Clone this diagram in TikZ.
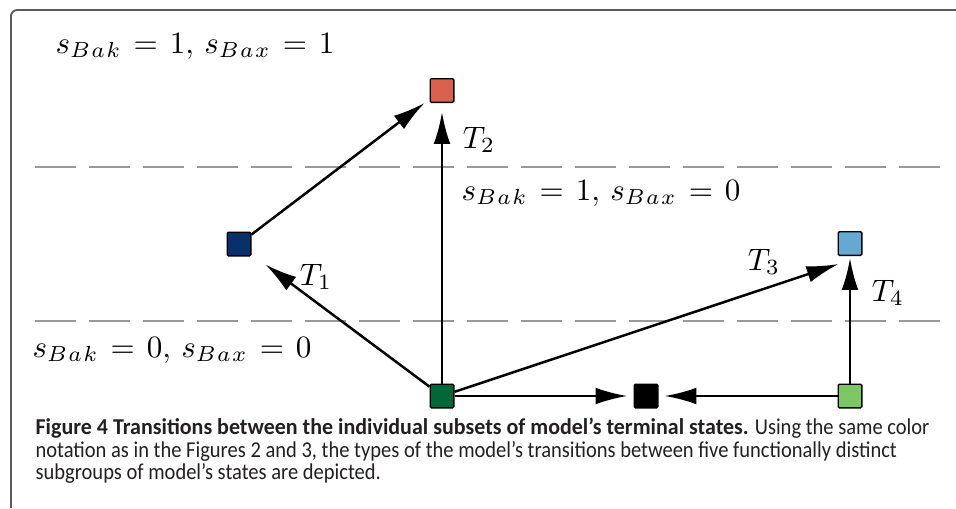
\documentclass[tikz,border=0pt]{standalone}
\usepackage{fontspec}
\newfontfamily\capfont[FakeStretch=0.905, BoldFeatures={FakeStretch=0.97}]{Carlito}
\usetikzlibrary{arrows.meta}
\definecolor{cRed}{HTML}{D9604C}
\definecolor{cDBlue}{HTML}{08306B}
\definecolor{cDGreen}{HTML}{006837}
\definecolor{cLGreen}{HTML}{7DC664}
\definecolor{cLBlue}{HTML}{65A9D2}
\definecolor{frameC}{HTML}{5A5A5A}
\definecolor{dashC}{HTML}{999999}
\definecolor{capC}{HTML}{231F20}
\newcommand{\regtext}[2]{$\thickmuskip=7mu s_{B\mkern1mu a\mkern1mu k}=#1,\mkern3mu s_{B\mkern1mu a\mkern1mu x}=#2$}
\begin{document}
\begin{tikzpicture}[x=0.322pt,y=-0.322pt,
  state/.style={draw=black, line width=0.45pt, minimum size=7.6pt, inner sep=0pt, rounded corners=0.4pt},
  arr/.style={-{Latex[length=10.3pt,width=5.4pt]}, line width=0.8pt},
  divider/.style={draw=dashC, line width=0.6pt, dash pattern=on 13.2pt off 4.19pt},
  region/.style={anchor=base west, inner sep=0pt, font=\fontsize{10}{12}\selectfont},
  tlab/.style={inner sep=0pt, font=\fontsize{10}{12}\selectfont},
  capline/.style={anchor=base west, inner sep=0pt, text=capC, font=\capfont\fontsize{7.3}{8.5}\selectfont}]
\useasboundingbox (0,0) rectangle (956,508);
% frame
\draw[frameC, line width=0.6pt, rounded corners=2pt] (11,508) -- (11,10) -- (956,10);
% dividers
\draw[divider] (35,167) -- (942,167);
\draw[divider] (35,321) -- (942,321);
% region labels
\node[region] (l1) at (55,53) {\regtext{1}{1}};
\node[region] (l2) at (461,200) {\regtext{1}{0}};
\node[region] (l3) at (32,357) {\regtext{0}{0}};
% states
\node[state, fill=cRed] (r) at (442,90.5) {};
\node[state, fill=cDBlue] (b) at (239,244) {};
\node[state, fill=cDGreen] (g) at (442,396) {};
\node[state, fill=black] (k) at (646,396) {};
\node[state, fill=cLGreen] (lg) at (850,396) {};
\node[state, fill=cLBlue] (lb) at (850,243.5) {};
% transitions
\draw[arr] (b) -- ([shift={(-5,0)}]r.south west);
\draw[arr] (g) -- ([shift={(0,9)}]r.south);
\draw[arr] (g) -- ([shift={(14,8)}]b.south east);
\draw[arr] (g) -- ([shift={(1,8)}]lb.south west);
\draw[arr] (lg) -- ([shift={(0,2)}]lb.south);
\draw[arr] (g) -- ([shift={(-6,0)}]k.west);
\draw[arr] (lg) -- ([shift={(6,0)}]k.east);
% transition labels
\node[tlab] (t1) at (316,277) {$T_1$};
\node[tlab] (t2) at (479,140) {$T_2$};
\node[tlab] (t3) at (764,262) {$T_3$};
\node[tlab] (t4) at (888,293) {$T_4$};
% caption
\node[capline] (c1) at (35,434) {\textbf{Figure 4 Transitions between the individual subsets of model’s terminal states.} Using the same color};
\node[capline] (c2) at (35,457) {notation as in the Figures 2 and 3, the types of the model’s transitions between five functionally distinct};
\node[capline] (c3) at (35,479) {subgroups of model’s states are depicted.};
\end{tikzpicture}
\end{document}
